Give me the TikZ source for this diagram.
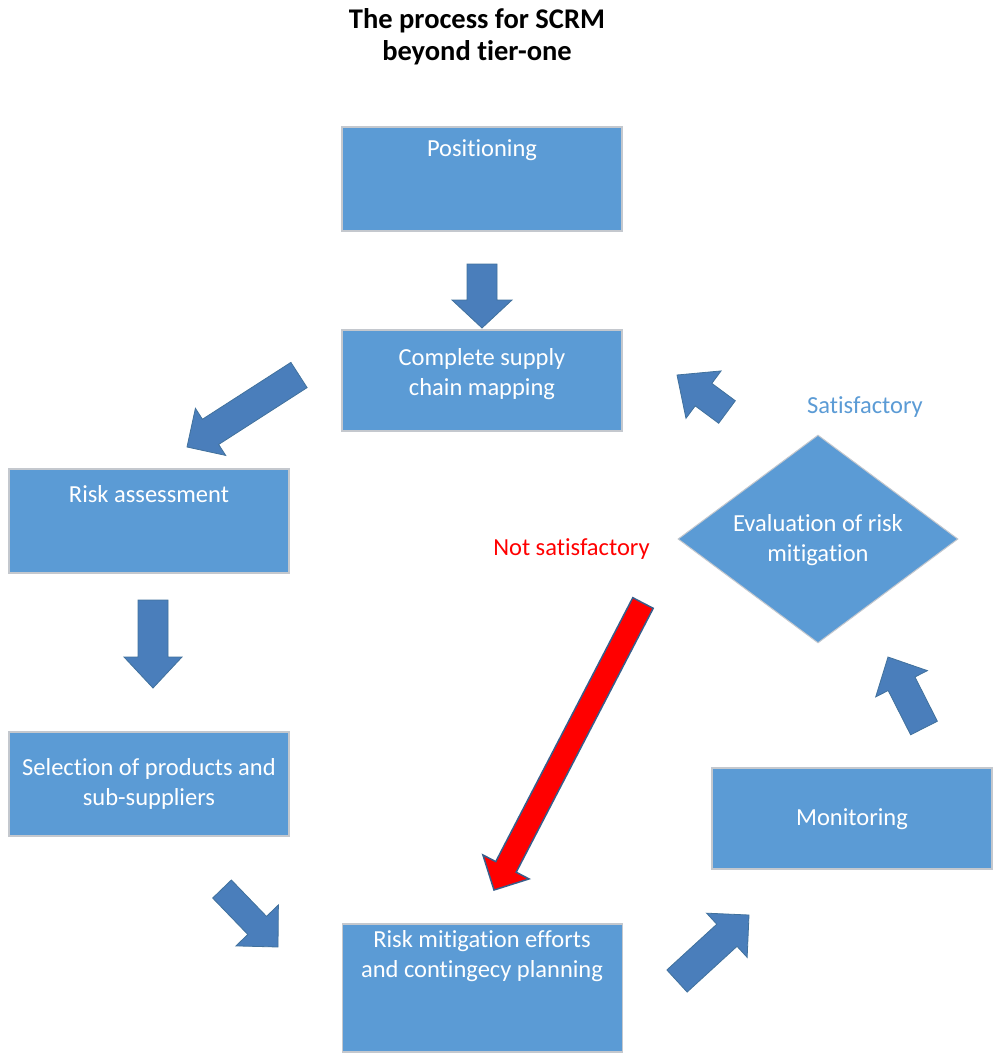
\documentclass[tikz,border=0pt]{standalone}
\usepackage{fontspec}
\setmainfont{Carlito}[Ligatures=NoCommon]
\usetikzlibrary{calc,shapes.geometric}

\definecolor{boxblue}{HTML}{5B9BD5}
\definecolor{boxedge}{HTML}{C4C8CE}
\definecolor{arrowblue}{HTML}{4A7EBB}
\definecolor{arrowedge}{HTML}{41719C}
\definecolor{rededge}{HTML}{385D8A}

% Block arrow from #2 (tail centre) to #3 (tip):
% #4 half shaft width, #5 half head width, #6 head length
\newcommand\blockarrow[6]{%
  \coordinate (ba-hb) at ($(#3)!#6!(#2)$);
  \draw[#1] ($(#2)!#4!90:(#3)$) -- ($(ba-hb)!#4!90:(#3)$)
    -- ($(ba-hb)!#5!90:(#3)$) -- (#3) -- ($(ba-hb)!#5!-90:(#3)$)
    -- ($(ba-hb)!#4!-90:(#3)$) -- ($(#2)!#4!-90:(#3)$) -- cycle;
}

\tikzset{
  stepbox/.style={draw=boxedge, line width=1.5pt, fill=boxblue,
    rectangle, minimum width=280pt, inner sep=0pt},
  decision/.style={draw=boxedge, line width=1pt, fill=boxblue,
    diamond, minimum width=280pt, minimum height=208pt, inner sep=0pt},
  boxtext/.style={text=white, align=center, inner sep=0pt, anchor=base,
    font=\fontsize{24.5}{30}\selectfont},
  remark/.style={inner sep=0pt, anchor=base, font=\fontsize{24.5}{30}\selectfont},
  blockarr/.style={fill=arrowblue, draw=arrowedge, line width=0.8pt, line join=miter},
  redarr/.style={fill=red, draw=rededge, line width=1.5pt, line join=miter},
}

\begin{document}
\begin{tikzpicture}[x=1pt, y=-1pt]
\useasboundingbox (0,0) rectangle (993,1055);

% title (base anchor sits on the last line)
\node[inner sep=0pt, anchor=base, align=center,
  font=\bfseries\fontsize{28.5}{32}\selectfont] (title) at (477,60)
  {The process for SCRM\\beyond tier-one};

% process steps
\node[stepbox, minimum height=104pt] (pos)  at (482,179)   {};
\node[stepbox, minimum height=101pt] (map)  at (482,380.5) {};
\node[stepbox, minimum height=104pt] (risk) at (149,521)   {};
\node[stepbox, minimum height=104pt] (sel)  at (149,784)   {};
\node[stepbox, minimum height=128pt] (mit)  at (482.5,988) {};
\node[stepbox, minimum height=101pt] (mon)  at (852,818.5) {};
\node[decision] (eval) at (818,539) {};

\node[boxtext] (pos-t)  at (482,156)   {Positioning};
\node[boxtext] (map-t)  at (482,395)   {Complete supply\\chain mapping};
\node[boxtext] (risk-t) at (149,502.7) {Risk assessment};
\node[boxtext] (sel-t)  at (149,805)   {Selection of products and\\sub-suppliers};
\node[boxtext] (mit-t)  at (482,977.7) {Risk mitigation efforts\\and contingecy planning};
\node[boxtext] (mon-t)  at (852,825)   {Monitoring};
\node[boxtext] (eval-t) at (818,561)   {Evaluation of risk\\mitigation};

% decision outcomes
\node[remark, text=boxblue] (sat) at (865,413.3) {Satisfactory};
\node[remark, text=red] (notsat) at (571.5,555) {Not satisfactory};

% arrow end points
\coordinate (a1s) at (482,264);  \coordinate (a1e) at (482,328);
\coordinate (a2s) at (299,375);  \coordinate (a2e) at (187,447);
\coordinate (a3s) at (153,600);  \coordinate (a3e) at (153,688);
\coordinate (a4s) at (222,889);  \coordinate (a4e) at (278,947);
\coordinate (a5s) at (677,981);  \coordinate (a5e) at (749,915);
\coordinate (a6s) at (924,728);  \coordinate (a6e) at (888,657);
\coordinate (a7s) at (727,412);  \coordinate (a7e) at (677,375);
\coordinate (a8s) at (643,603);  \coordinate (a8e) at (494,890);

% flow arrows
\blockarrow{blockarr}{a1s}{a1e}{15pt}{30pt}{28pt}
\blockarrow{blockarr}{a2s}{a2e}{15pt}{28pt}{28pt}
\blockarrow{blockarr}{a3s}{a3e}{15pt}{29pt}{31pt}
\blockarrow{blockarr}{a4s}{a4e}{13pt}{29.5pt}{30pt}
\blockarrow{blockarr}{a5s}{a5e}{15pt}{30pt}{30pt}
\blockarrow{blockarr}{a6s}{a6e}{15pt}{29pt}{30pt}
\blockarrow{blockarr}{a7s}{a7e}{14pt}{29.5pt}{33pt}
\blockarrow{redarr}{a8s}{a8e}{11.5pt}{26pt}{26pt}
\end{tikzpicture}
\end{document}
